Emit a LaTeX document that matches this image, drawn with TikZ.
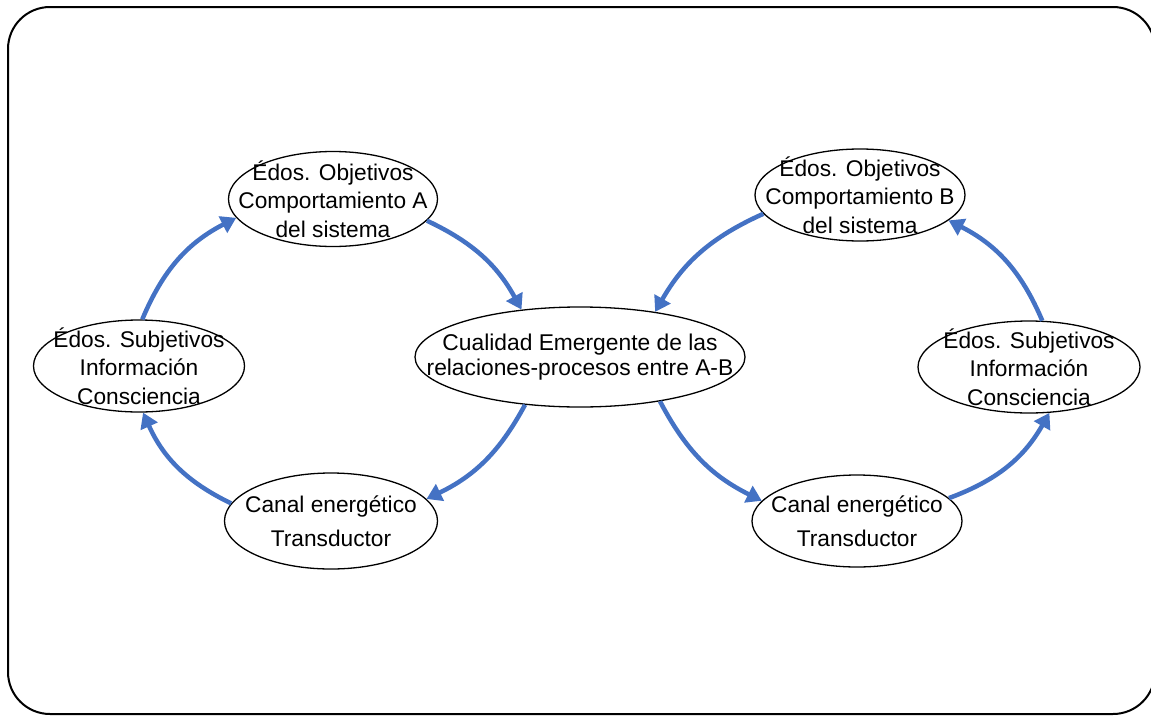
\documentclass[tikz,border=0pt]{standalone}
\usepackage{fontspec}
\setmainfont{Liberation Sans}
\usetikzlibrary{shapes.geometric,arrows.meta}
\definecolor{flowblue}{HTML}{4472C4}
\begin{document}
\begin{tikzpicture}[x=1pt,y=-1pt,
  state/.style 2 args={ellipse,draw=black,line width=1.3pt,inner sep=0pt,
    minimum width=#1pt,minimum height=#2pt},
  txt/.style={inner sep=0pt,align=center,font=\fontsize{22.7}{28.5}\selectfont},
  txtwide/.style={txt,font=\fontsize{22.7}{34}\selectfont},
  txtmid/.style={txt,font=\fontsize{22.8}{25}\selectfont},
  flow/.style={draw=flowblue,line width=4.5pt,-{Triangle[length=15pt,width=18pt]}}]
\useasboundingbox (0,0) rectangle (1151,715);
% frame, running past the right and bottom edges of the page
\begin{scope}
  \clip (0,0) rectangle (1151,715);
  \draw[line width=2pt,rounded corners=42pt] (8,7) rectangle (1155,714);
\end{scope}
% left loop
\node[state={209}{95},label={[txt]center:{Édos. Objetivos\\Comportamiento A\\del sistema}}]
  (A) at (333,199) {};
\node[state={211}{92},label={[txt]center:{Édos. Subjetivos\\Información\\Consciencia}}]
  (SA) at (139,366) {};
\node[state={213}{96},label={[txtwide]center:{Canal energético\\Transductor}}]
  (CA) at (331,521) {};
% centre
\node[state={330}{100},label={[txtmid]center:{Cualidad Emergente de las\\relaciones-procesos entre A-B}}]
  (C) at (580,357) {};
% right loop
\node[state={210}{92},label={[txt]center:{Édos. Objetivos\\Comportamiento B\\del sistema}}]
  (B) at (860,195) {};
\node[state={222}{92},label={[txt]center:{Édos. Subjetivos\\Información\\Consciencia}}]
  (SB) at (1029,367) {};
\node[state={210}{92},label={[txtwide]center:{Canal energético\\Transductor}}]
  (CB) at (857,521) {};
% connectors
\draw[flow] (SA.86) to[bend left=20] (A.191);
\draw[flow] (A.347) to[bend left=18] (C.141);
\draw[flow] (C.221) to[bend left=18] (CA.13);
\draw[flow] (CA.170) to[bend left=20] (SA.275);
\draw[flow] (C.331) to[bend right=18] (CB.168);
\draw[flow] (CB.14) to[bend right=20] (SB.294);
\draw[flow] (SB.74) to[bend right=20] (B.344);
\draw[flow] (B.191) to[bend right=18] (C.31);
\end{tikzpicture}
\end{document}
